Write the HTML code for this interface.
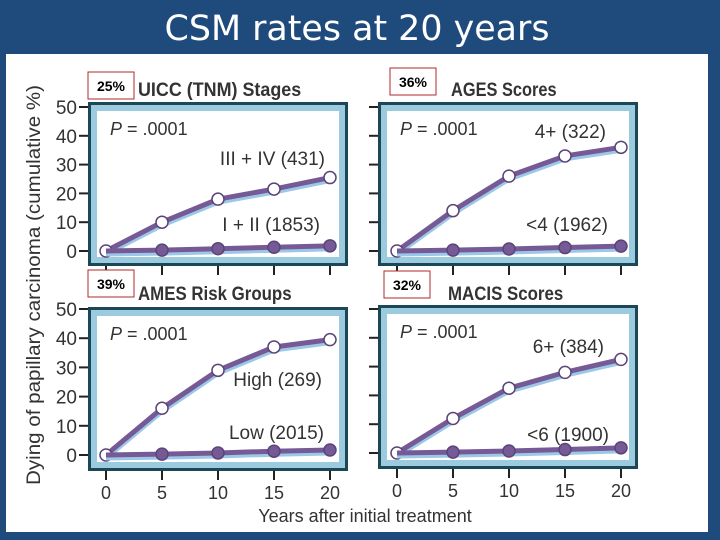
<!DOCTYPE html>
<html><head><meta charset="utf-8"><style>
body{margin:0;width:720px;height:540px;background:#1f4a7c;overflow:hidden;font-family:"Liberation Sans",sans-serif}
svg{display:block}
</style></head><body>
<svg id="s" width="720" height="540" viewBox="0 0 720 540">
<rect x="0" y="0" width="720" height="540" fill="#1f4a7c"/>
<rect x="6" y="54" width="702" height="478" fill="#fff"/>
<text x="357" y="40" text-anchor="middle" fill="#fff" font-size="35" font-family="DejaVu Sans, Liberation Sans, sans-serif" textLength="385" lengthAdjust="spacingAndGlyphs">CSM rates at 20 years</text>
<text transform="translate(40,285) rotate(-90)" text-anchor="middle" font-size="19" fill="#333" textLength="400" lengthAdjust="spacingAndGlyphs">Dying of papillary carcinoma (cumulative %)</text>
<text x="365" y="522" text-anchor="middle" font-size="18" fill="#333">Years after initial treatment</text>
</svg>
<script>
const years=[0,5,10,15,20];
const yTicks=[0,10,20,30,40,50];
const panelTitles=["UICC (TNM) Stages","AGES Scores","AMES Risk Groups","MACIS Scores"];
const panelPct=["25%","36%","39%","32%"];
const highLabels=["III + IV (431)","4+ (322)","High (269)","6+ (384)"];
const lowLabels=["I + II (1853)","<4 (1962)","Low (2015)","<6 (1900)"];
const highUICC=[0,10,18,21.5,25.5];
const lowUICC=[0,0.3,0.8,1.3,1.8];
const highAGES=[0,14,26,33,36];
const lowAGES=[0,0.3,0.7,1.2,1.7];
const highAMES=[0,16,29,37,39.5];
const lowAMES=[0,0.3,0.7,1.3,1.7];
const highMACIS=[0,12,22.5,28,32.5];
const lowMACIS=[0,0.3,0.7,1.2,1.8];
const highSeries=[highUICC,highAGES,highAMES,highMACIS];
const lowSeries=[lowUICC,lowAGES,lowAMES,lowMACIS];

const NS="http://www.w3.org/2000/svg";
const svg=document.getElementById('s');
function mk(tag,at,parent){const e=document.createElementNS(NS,tag);for(const k in at)e.setAttribute(k,at[k]);(parent||svg).appendChild(e);return e;}
const panels=[
 {bx:88,by:102,x0:106,x1:330,y0:251,y50:107,left:true,bottom:false,pctx:88,pcty:72,tx:138,ty:96,hlx:325,hly:165,llx:320,lly:231},
 {bx:378,by:102,x0:397,x1:621,y0:251,y50:107,left:false,bottom:false,pctx:390,pcty:68,tx:451,ty:96,hlx:606,hly:138,llx:608,lly:231},
 {bx:88,by:307,x0:106,x1:330,y0:455,y50:309,left:true,bottom:true,pctx:88,pcty:270,tx:138,ty:300,hlx:322,hly:386,llx:324,lly:439},
 {bx:378,by:305,x0:397,x1:621,y0:453,y50:309,left:false,bottom:true,pctx:384,pcty:271,tx:448,ty:300,hlx:604,hly:353,llx:609,lly:441}
];
panels.forEach((p,i)=>{
 const g=mk('g',{});
 
 
 const xs=v=>p.x0+(p.x1-p.x0)*v/20;
 const ys=v=>p.y0-(p.y0-p.y50)*v/50;
 const box=mk('rect',{x:p.bx+1.5,y:p.by+1.5,width:257,height:161,fill:'#9ccbe0',stroke:'#1b4756','stroke-width':3},g);
 
 
 mk('rect',{x:p.bx+9,y:p.by+9,width:242,height:146,fill:'#fff'},g);
 yTicks.forEach(t=>{
  const tk=mk('line',{x1:p.bx-9,x2:p.bx,y1:ys(t),y2:ys(t),stroke:'#222','stroke-width':2},g);
  
  
  if(p.left){
   const tl=mk('text',{x:p.bx-11,y:ys(t)+7,'text-anchor':'end','font-size':19,fill:'#333'},g);
   tl.textContent=t;
   
   
  }
 });
 years.forEach(t=>{
  const tk=mk('line',{x1:xs(t),x2:xs(t),y1:p.by+164,y2:p.by+173,stroke:'#222','stroke-width':2},g);
  
  
  if(p.bottom){
   const tl=mk('text',{x:xs(t),y:p.by+192,'text-anchor':'middle','font-size':18,fill:'#333'},g);
   tl.textContent=t;
   
   
  }
 });
 const pb=mk('rect',{x:p.pctx,y:p.pcty,width:46,height:27,fill:'#fff',stroke:'#b02a2a','stroke-width':1},g);
 
 
 const pt=mk('text',{x:p.pctx+23,y:p.pcty+19,'text-anchor':'middle','font-size':14,'font-weight':'bold',fill:'#000'},g);
 pt.textContent=panelPct[i];
 
 
 const tt=mk('text',{x:p.tx,y:p.ty,'font-size':19,'font-weight':'bold',fill:'#333',textLength:panelTitles[i].length*9.6,lengthAdjust:'spacingAndGlyphs'},g);
 tt.textContent=panelTitles[i];
 
 
 const pv=mk('text',{x:p.bx+22,y:p.by+33,'font-size':18,fill:'#333'},g);
 pv.innerHTML='<tspan font-style="italic">P</tspan> = .0001';
 
 
 [[highSeries[i],true,highLabels[i],p.hlx,p.hly],[lowSeries[i],false,lowLabels[i],p.llx,p.lly]].forEach(([d,open,lab,lx,ly])=>{
  const pts=years.map((y,k)=>xs(y)+','+ys(d[k])).join(' ');
  const sh=mk('polyline',{points:years.map((y,k)=>xs(y)+','+(ys(d[k])+3)).join(' '),fill:'none',stroke:'#9cc8e8','stroke-width':5},g);
  
  
  const ln=mk('polyline',{points:pts,fill:'none',stroke:'#765a96','stroke-width':5,'stroke-linejoin':'round'},g);
  
  
  years.forEach((y,k)=>{
   if(!open&&k===0)return;
   const c=mk('circle',{cx:xs(y),cy:ys(d[k]),r:6,fill:open?'#fff':'#765a96',stroke:'#5c4478','stroke-width':1.5},g);
   
   
  });
  const tl=mk('text',{x:lx,y:ly,'text-anchor':'end','font-size':19,fill:'#333'},g);
  tl.textContent=lab;
  
  
 });
});
</script>
</body></html>
